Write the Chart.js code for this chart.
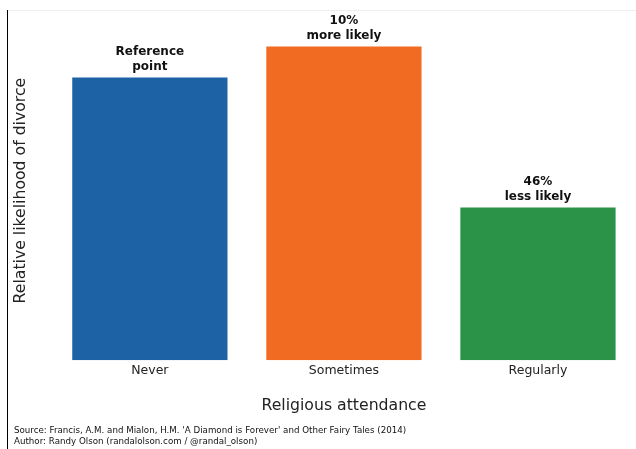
<!DOCTYPE html>
<html>
<head>
<meta charset="utf-8">
<script src="https://cdn.jsdelivr.net/npm/chart.js@4.4.0/dist/chart.umd.min.js"></script>
<style>
  html, body { margin: 0; padding: 0; background: #fff; }
  #wrap { position: relative; width: 636px; height: 449px; }
</style>
</head>
<body>
<div id="wrap"><canvas id="divorceChart"></canvas></div>
<script>
// Data
const categories = ['Never', 'Sometimes', 'Regularly'];
const relativeLikelihood = [1.0, 1.11, 0.54];
const barColors = ['#1c62a5', '#f26b23', '#2a9347'];
const barNotes = [
    ['Reference', 'point'],
    ['10%', 'more likely'],
    ['46%', 'less likely']
];
const sourceLines = [
    "Source: Francis, A.M. and Mialon, H.M. 'A Diamond is Forever' and Other Fairy Tales (2014)",
    'Author: Randy Olson (randalolson.com / @randal_olson)'
];

const FONT = "'DejaVu Sans', sans-serif";

/**
 * Frame line on the left and faint line on top, like the notebook cell
 */
const framePlugin = {
    id: 'frame',
    beforeDraw(chart) {
        const ctx = chart.ctx;
        ctx.save();
        ctx.strokeStyle = '#eeeeee';
        ctx.lineWidth = 1;
        ctx.beginPath();
        ctx.moveTo(7, 10.5);
        ctx.lineTo(636, 10.5);
        ctx.stroke();
        ctx.strokeStyle = '#000';
        ctx.beginPath();
        ctx.moveTo(7.5, 10);
        ctx.lineTo(7.5, 449);
        ctx.stroke();
        ctx.restore();
    }
};

/**
 * Bold notes above each bar
 */
const notesPlugin = {
    id: 'barNotes',
    afterDatasetsDraw(chart) {
        const ctx = chart.ctx;
        const meta = chart.getDatasetMeta(0);
        ctx.save();
        ctx.font = "bold 12px " + FONT;
        ctx.fillStyle = '#111';
        ctx.textAlign = 'center';
        ctx.textBaseline = 'middle';
        meta.data.forEach((bar, i) => {
            const lines = barNotes[i];
            ctx.fillText(lines[0], bar.x, bar.y - 26);
            ctx.fillText(lines[1], bar.x, bar.y - 11);
        });
        ctx.restore();
    }
};

/**
 * Source / author footnote
 */
const footPlugin = {
    id: 'footnote',
    afterDraw(chart) {
        const ctx = chart.ctx;
        ctx.save();
        ctx.font = "8.7px " + FONT;
        ctx.fillStyle = '#111';
        ctx.textAlign = 'left';
        ctx.textBaseline = 'middle';
        ctx.fillText(sourceLines[0], 14, 431);
        ctx.fillText(sourceLines[1], 14, 442);
        ctx.restore();
    }
};

const canvas = document.getElementById('divorceChart');

const divorceChart = new Chart(canvas, {
    type: 'bar',
    data: {
        labels: categories,
        datasets: [{
            data: relativeLikelihood,
            backgroundColor: barColors,
            borderWidth: 0,
            categoryPercentage: 1.0,
            barPercentage: 0.8
        }]
    },
    options: {
        responsive: true,
        maintainAspectRatio: false,
        animation: false,
        devicePixelRatio: 1,
        layout: {
            padding: { left: 9, right: 1, top: 21, bottom: 34 }
        },
        plugins: {
            legend: { display: false },
            tooltip: { enabled: false }
        },
        scales: {
            x: {
                grid: { display: false, drawTicks: false },
                border: { display: false },
                ticks: {
                    color: '#222',
                    padding: 3,
                    font: { family: FONT, size: 12.5 }
                },
                title: {
                    display: true,
                    text: 'Religious attendance',
                    color: '#222',
                    padding: { top: 15, bottom: 0 },
                    font: { family: FONT, size: 15.7 }
                }
            },
            y: {
                min: 0,
                max: 1.2,
                grid: { display: false, drawTicks: false },
                border: { display: false },
                ticks: { display: false },
                title: {
                    display: true,
                    text: 'Relative likelihood of divorce',
                    color: '#222',
                    padding: { top: 3, bottom: 22 },
                    font: { family: FONT, size: 15.7 }
                }
            }
        }
    },
    plugins: [framePlugin, notesPlugin, footPlugin]
});
</script>
</body>
</html>
